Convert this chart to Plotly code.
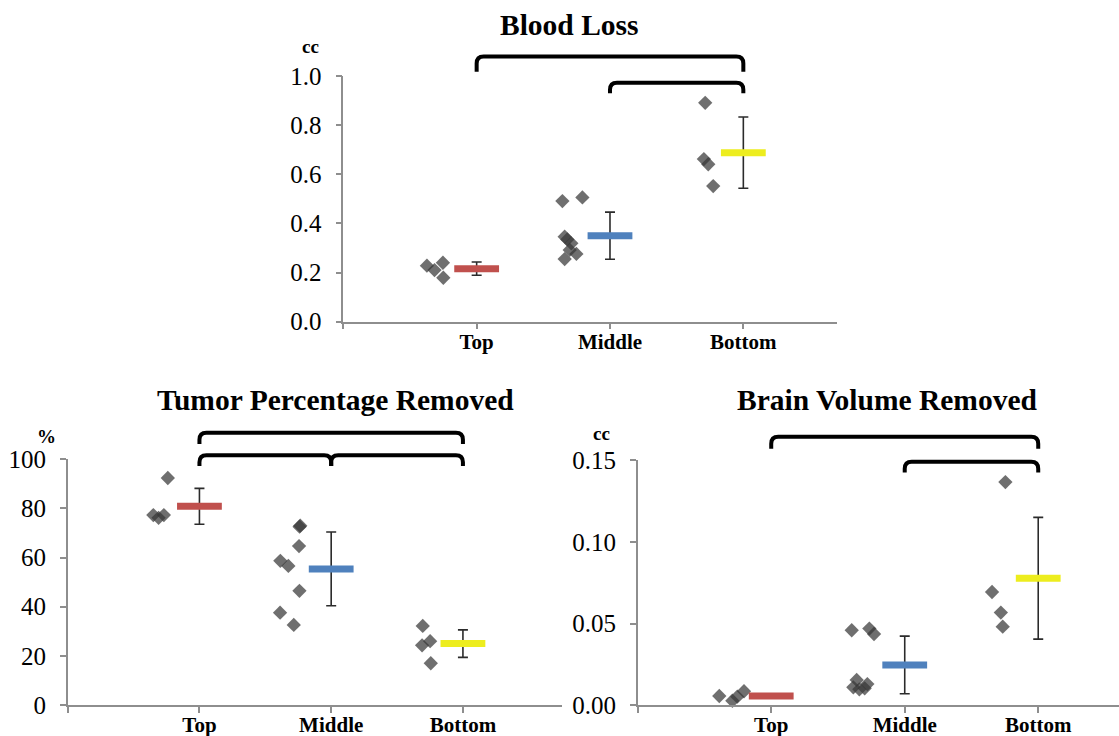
import plotly.graph_objects as go

W, H = 1119, 736

categories = ["Top", "Middle", "Bottom"]
cat_pos = [1, 2, 3]

# ---------------- Blood Loss (cc) ----------------
blood_top_x = [0.627, 0.684, 0.747, 0.750]
blood_top_y = [0.228, 0.210, 0.240, 0.179]
blood_mid_x = [1.643, 1.793, 1.660, 1.680, 1.710, 1.698, 1.748, 1.660]
blood_mid_y = [0.491, 0.506, 0.346, 0.335, 0.319, 0.292, 0.276, 0.255]
blood_bot_x = [2.714, 2.704, 2.737, 2.774]
blood_bot_y = [0.891, 0.662, 0.641, 0.552]
blood_mean = [0.216, 0.350, 0.688]
blood_err = [0.027, 0.096, 0.145]

# ---------------- Tumor Percentage Removed (%) ----------------
tumor_top_x = [0.650, 0.690, 0.730, 0.760]
tumor_top_y = [77.3, 76.2, 77.3, 92.4]
tumor_mid_x = [1.614, 1.675, 1.759, 1.612, 1.716, 1.756, 1.760, 1.765]
tumor_mid_y = [58.7, 56.6, 46.5, 37.6, 32.6, 64.7, 72.6, 73.0]
tumor_bot_x = [2.695, 2.690, 2.751, 2.756]
tumor_bot_y = [32.2, 24.3, 26.0, 17.0]
tumor_mean = [80.9, 55.4, 25.0]
tumor_err = [7.3, 15.0, 5.6]

# ---------------- Brain Volume Removed (cc) ----------------
brain_top_x = [0.611, 0.709, 0.746, 0.796]
brain_top_y = [0.0057, 0.0028, 0.0053, 0.0086]
brain_mid_x = [1.603, 1.735, 1.770, 1.640, 1.615, 1.660, 1.700, 1.720]
brain_mid_y = [0.0459, 0.0469, 0.0436, 0.0155, 0.0110, 0.0098, 0.0104, 0.0130]
brain_bot_x = [2.754, 2.654, 2.720, 2.734]
brain_bot_y = [0.1365, 0.0693, 0.0567, 0.0481]
brain_mean = [0.0057, 0.0247, 0.0777]
brain_err = [0.0010, 0.0176, 0.0372]

# significance brackets: (from category, to category, top level, end level)
blood_brackets = [(1, 3, 1.079, 1.017), (2, 3, 0.973, 0.930)]
tumor_brackets = [(1, 3, 110.8, 106.2), (1, 2, 101.7, 97.3), (2, 3, 101.7, 97.3)]
brain_brackets = [(1, 3, 0.1642, 0.1569), (2, 3, 0.1490, 0.1424)]

mean_colors = ["#C0504D", "#4F81BD", "#EDED1E"]
POINT_COLOR = "rgba(55,55,55,0.72)"
AXIS_COLOR = "#8E8E8E"
SERIF = "Liberation Serif, Times New Roman, serif"

# axis layout definitions
axes = {
    "top": dict(xdom=[0.3068, 0.7477], xrange=[0, 3.7], ydom=[0.5629, 0.8967],
                yrange=[0, 1.0], dtick=0.2, fmt=".1f"),
    "left": dict(xdom=[0.0605, 0.5020], xrange=[0, 3.75], ydom=[0.0421, 0.3759],
                 yrange=[0, 100], dtick=20, fmt="d"),
    "right": dict(xdom=[0.5699, 1.0], xrange=[0, 3.605], ydom=[0.0417, 0.3750],
                  yrange=[0, 0.15], dtick=0.05, fmt=".2f"),
}


def px(ax, v):
    a = axes[ax]
    d0, d1 = a["xdom"]
    r0, r1 = a["xrange"]
    return d0 + (v - r0) / (r1 - r0) * (d1 - d0)


def py(ax, v):
    a = axes[ax]
    d0, d1 = a["ydom"]
    r0, r1 = a["yrange"]
    return d0 + (v - r0) / (r1 - r0) * (d1 - d0)


fig = go.Figure()

panels = [
    ("top", "x", "y",
     [(blood_top_x, blood_top_y), (blood_mid_x, blood_mid_y), (blood_bot_x, blood_bot_y)],
     blood_mean, blood_err, blood_brackets),
    ("left", "x2", "y2",
     [(tumor_top_x, tumor_top_y), (tumor_mid_x, tumor_mid_y), (tumor_bot_x, tumor_bot_y)],
     tumor_mean, tumor_err, tumor_brackets),
    ("right", "x3", "y3",
     [(brain_top_x, brain_top_y), (brain_mid_x, brain_mid_y), (brain_bot_x, brain_bot_y)],
     brain_mean, brain_err, brain_brackets),
]

shapes = []
rx, ry = 7.0 / W, 7.0 / H

for name, xa, ya, groups, means, errs, brackets in panels:
    for gx, gy in groups:
        fig.add_trace(go.Scatter(
            x=gx, y=gy, mode="markers", xaxis=xa, yaxis=ya, showlegend=False,
            cliponaxis=False,
            marker=dict(symbol="diamond", size=11, color=POINT_COLOR,
                        line=dict(width=0)),
        ))
    for i, c in enumerate(cat_pos):
        fig.add_trace(go.Scatter(
            x=[c], y=[means[i]], mode="markers", xaxis=xa, yaxis=ya,
            showlegend=False, cliponaxis=False,
            error_y=dict(type="data", array=[errs[i]], visible=True,
                         color="#2b2b2b", thickness=1.6, width=5),
            marker=dict(symbol="line-ew", size=32, color=mean_colors[i],
                        line=dict(width=7, color=mean_colors[i])),
        ))
    for c0, c1, ytop, yend in brackets:
        x0, x1 = px(name, c0), px(name, c1)
        yt, ye = py(name, ytop), py(name, yend)
        path = (f"M {x0},{ye} L {x0},{yt - ry} Q {x0},{yt} {x0 + rx},{yt} "
                f"L {x1 - rx},{yt} Q {x1},{yt} {x1},{yt - ry} L {x1},{ye}")
        shapes.append(dict(type="path", path=path, xref="paper", yref="paper",
                           line=dict(color="black", width=4), layer="above"))

for name, xa, ya in [("top", "xaxis", "yaxis"), ("left", "xaxis2", "yaxis2"),
                     ("right", "xaxis3", "yaxis3")]:
    a = axes[name]
    anchor_y = "y" if ya == "yaxis" else "y" + ya[-1]
    anchor_x = "x" if xa == "xaxis" else "x" + xa[-1]
    fig.layout[xa] = dict(
        domain=a["xdom"], range=a["xrange"], anchor=anchor_y, automargin=False,
        tickmode="array", tickvals=[0] + cat_pos, ticktext=[""] + categories,
        showline=True, linecolor=AXIS_COLOR, linewidth=1.5,
        ticks="outside", ticklen=6, tickcolor=AXIS_COLOR, tickwidth=1.5,
        ticklabelstandoff=-6,
        showgrid=False, zeroline=False,
        tickfont=dict(family=SERIF, size=21, color="black", weight="bold"),
        fixedrange=True,
    )
    fig.layout[ya] = dict(
        domain=a["ydom"], range=a["yrange"], anchor=anchor_x, automargin=False,
        tickmode="linear", tick0=0, dtick=a["dtick"], tickformat=a["fmt"],
        showline=True, linecolor=AXIS_COLOR, linewidth=1.5,
        ticks="outside", ticklen=6, tickcolor=AXIS_COLOR, tickwidth=1.5,
        ticklabelstandoff=9,
        showgrid=False, zeroline=False,
        tickfont=dict(family=SERIF, size=25, color="black"),
        fixedrange=True,
    )

annotations = [
    dict(text="Blood Loss", x=0.5091, y=0.9660, size=29.5),
    dict(text="Tumor Percentage Removed", x=0.2994, y=0.4565, size=29.5),
    dict(text="Brain Volume Removed", x=0.7927, y=0.4565, size=29.5),
    dict(text="cc", x=0.2779, y=0.9375, size=19),
    dict(text="%", x=0.0420, y=0.4070, size=19),
    dict(text="cc", x=0.5371, y=0.4115, size=19),
]
fig.update_layout(
    annotations=[dict(text=a["text"], x=a["x"], y=a["y"], xref="paper", yref="paper",
                      xanchor="center", yanchor="middle", showarrow=False,
                      font=dict(family=SERIF, size=a["size"], color="black",
                                weight="bold"))
                 for a in annotations],
    shapes=shapes,
    width=W, height=H,
    margin=dict(l=0, r=0, t=0, b=0, pad=0, autoexpand=False),
    paper_bgcolor="white", plot_bgcolor="white",
    showlegend=False,
)

fig.write_html("out.html", config={"displayModeBar": False},
               post_script="document.body.style.margin='0';")
